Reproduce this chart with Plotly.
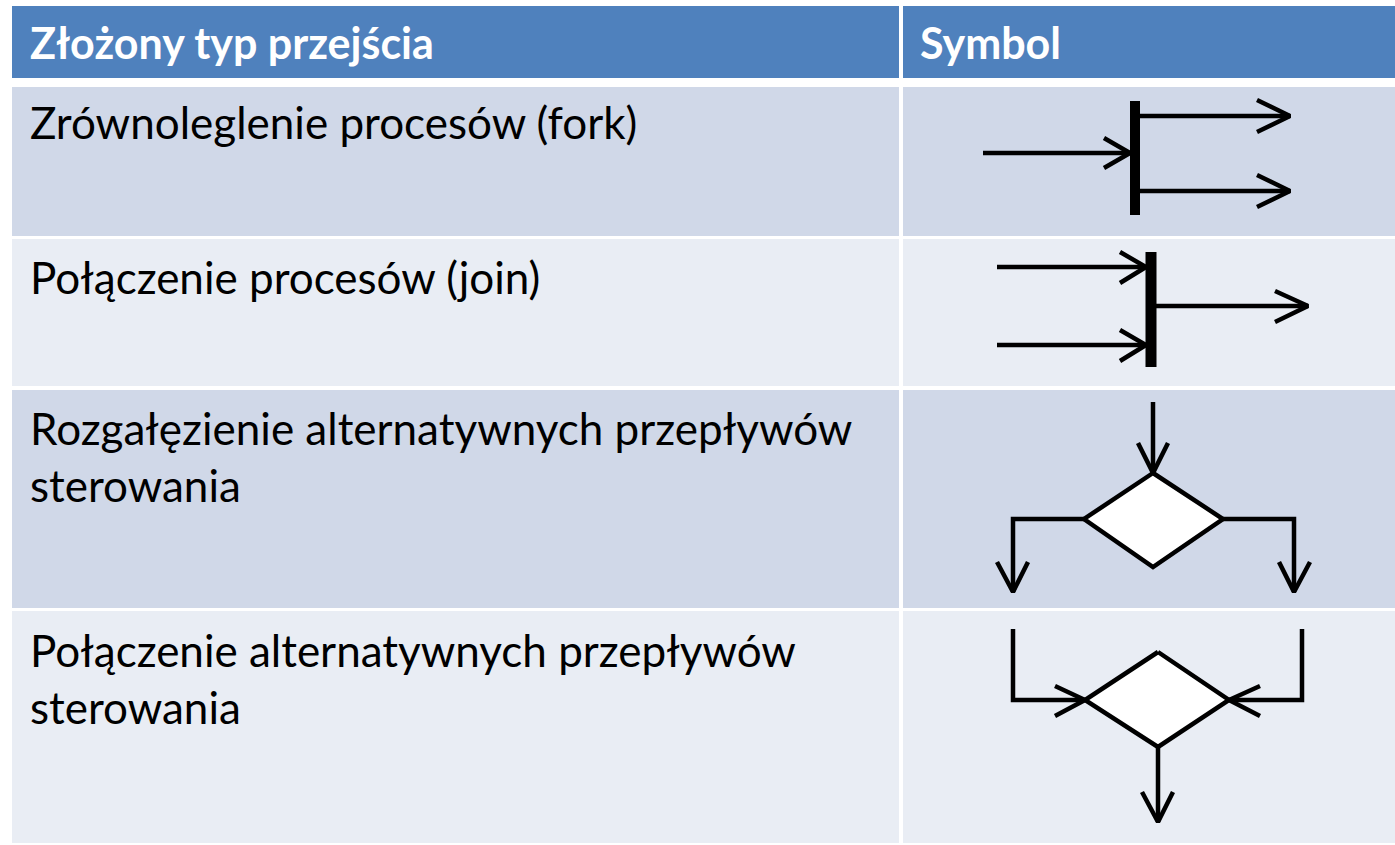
import plotly.graph_objects as go

# ---- table content ----
header_labels = ["Złożony typ przejścia", "Symbol"]
row_labels = [
    ["Zrównoleglenie procesów (fork)"],
    ["Połączenie procesów (join)"],
    ["Rozgałęzienie alternatywnych przepływów", "sterowania"],
    ["Połączenie alternatywnych przepływów", "sterowania"],
]

# ---- layout geometry (pixels, y downward) ----
W, H = 1395, 845
col_x = [(12, 899), (903, 1395)]
header_y = (6, 78)
row_y = [(87, 236), (239, 386), (390, 608), (611, 843)]
header_baseline = 57
row_baselines = [[137], [292], [443, 500], [665, 722]]
text_x = 28
header_text_x = [28, 918]

HEADER_COLOR = "#4F81BD"
ROW_COLORS = ["#D0D8E8", "#E9EDF4", "#D0D8E8", "#E9EDF4"]
FONT = "Lato"
FS = 44
HFS = 43

# ---- symbol geometry (pixels) ----
# fork
fork_bar = (1135, 101, 215)
fork_lines = [
    [(983, 153), (1130, 153)], [(1104, 138), (1130, 153), (1104, 168)],
    [(1140, 116), (1290, 116)], [(1257, 100), (1290, 116), (1257, 132)],
    [(1140, 191), (1290, 191)], [(1257, 175), (1290, 191), (1257, 207)],
]
# join
join_bar = (1151, 252, 367)
join_lines = [
    [(997, 267), (1146, 267)], [(1120, 252), (1146, 267), (1120, 283)],
    [(997, 345), (1146, 345)], [(1120, 330), (1146, 345), (1120, 361)],
    [(1156, 306), (1308, 306)], [(1275, 291), (1308, 306), (1275, 322)],
]
# decision (branch)
dec_lines = [
    [(1153, 402), (1153, 473)], [(1138, 443), (1153, 473), (1168, 443)],
    [(1084, 519), (1013, 519), (1013, 592)], [(997, 562), (1013, 592), (1028, 562)],
    [(1223, 519), (1294, 519), (1294, 592)], [(1279, 562), (1294, 592), (1310, 562)],
]
dec_diamond = [(1153, 473), (1223, 519), (1153, 567), (1084, 519), (1153, 473)]
# merge
mer_lines = [
    [(1013, 629), (1013, 700), (1085, 700)], [(1055, 686), (1085, 700), (1055, 716)],
    [(1302, 629), (1302, 700), (1229, 700)], [(1260, 686), (1229, 700), (1260, 716)],
    [(1158, 747), (1158, 822)], [(1142, 792), (1158, 822), (1173, 792)],
]
mer_diamond = [(1158, 652), (1229, 700), (1158, 747), (1085, 700), (1158, 652)]

fig = go.Figure()
shapes = []

# header cells
for (x0, x1) in col_x:
    shapes.append(dict(type="rect", x0=x0, x1=x1, y0=header_y[0], y1=header_y[1],
                       fillcolor=HEADER_COLOR, line=dict(width=0), layer="below"))
# body cells
for i, (y0, y1) in enumerate(row_y):
    for (x0, x1) in col_x:
        shapes.append(dict(type="rect", x0=x0, x1=x1, y0=y0, y1=y1,
                           fillcolor=ROW_COLORS[i], line=dict(width=0), layer="below"))

# bars
for (bx, by0, by1), bw in [(fork_bar, 10), (join_bar, 11)]:
    shapes.append(dict(type="rect", x0=bx - bw / 2, x1=bx + bw / 2, y0=by0, y1=by1,
                       fillcolor="black", line=dict(width=0), layer="above"))


def add_polylines(lines):
    xs, ys = [], []
    for seg in lines:
        for (x, y) in seg:
            xs.append(x)
            ys.append(y)
        xs.append(None)
        ys.append(None)
    fig.add_trace(go.Scatter(x=xs, y=ys, mode="lines",
                             line=dict(color="black", width=4.5),
                             hoverinfo="skip", showlegend=False))


def add_diamond(pts):
    fig.add_trace(go.Scatter(x=[p[0] for p in pts], y=[p[1] for p in pts],
                             mode="lines", fill="toself", fillcolor="white",
                             line=dict(color="black", width=4.5),
                             hoverinfo="skip", showlegend=False))


add_polylines(fork_lines)
add_polylines(join_lines)
add_polylines(dec_lines)
add_diamond(dec_diamond)
add_polylines(mer_lines)
add_diamond(mer_diamond)

annotations = []
for lbl, hx in zip(header_labels, header_text_x):
    annotations.append(dict(x=hx, y=header_baseline - 0.33 * HFS, text="<b>" + lbl + "</b>",
                            xanchor="left", yanchor="middle", showarrow=False,
                            font=dict(family=FONT, size=HFS, color="white")))
for lines, bases in zip(row_labels, row_baselines):
    for t, b in zip(lines, bases):
        annotations.append(dict(x=text_x, y=b - 0.33 * FS, text=t,
                                xanchor="left", yanchor="middle", showarrow=False,
                                font=dict(family=FONT, size=FS, color="black")))

fig.update_layout(
    width=W, height=H, margin=dict(l=0, r=0, t=0, b=0),
    paper_bgcolor="white", plot_bgcolor="white",
    xaxis=dict(range=[0, W], visible=False, fixedrange=True),
    yaxis=dict(range=[H, 0], visible=False, fixedrange=True),
    shapes=shapes, annotations=annotations, showlegend=False,
)

fig.write_html("out.html", config={"displayModeBar": False},
               post_script="document.body.style.margin='0';document.body.style.overflow='hidden';")
